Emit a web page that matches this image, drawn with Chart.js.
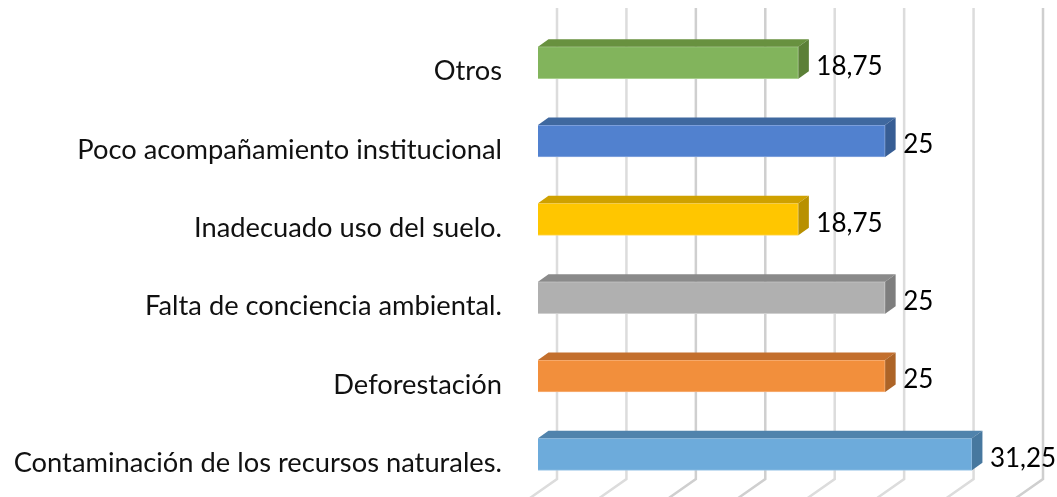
<!DOCTYPE html>
<html>
<head>
<meta charset="utf-8">
<style>
  html, body { margin: 0; padding: 0; background: #fff; }
  canvas { display: block; }
</style>
<script src="https://cdn.jsdelivr.net/npm/chart.js@4"></script>
</head>
<body>
<canvas id="chartBar" width="1057" height="497"></canvas>
<script>
const categories = [
  'Contaminación de los recursos naturales.',
  'Deforestación',
  'Falta de conciencia ambiental.',
  'Inadecuado uso del suelo.',
  'Poco acompañamiento institucional',
  'Otros'
];
const values = [31.25, 25, 25, 18.75, 25, 18.75];
const xTicks = [0, 5, 10, 15, 20, 25, 30, 35];
const frontColors = ['#6dabdb', '#f28f3c', '#b0b0b0', '#ffc600', '#5181cf', '#82b45c'];
const topColors = ['#5083ac', '#c36f2d', '#8a8a8a', '#cfa100', '#3f689f', '#68913f'];
const sideColors = ['#47789f', '#ad6427', '#7e7e7e', '#b89000', '#375d94', '#5b7f37'];
const edgeColors = ['#9cc6e8', '#f7b27a', '#cfcfcf', '#ffdb66', '#8aa9df', '#a9cf8e'];

// depth of the fake 3d bars and of the back wall
const barDepthX = 10.5;
const barDepthY = 7.5;
const wallDepthX = 19;

const wallGrid = {
  id: 'wallGrid',
  beforeDatasetsDraw(chart) {
    const ctx = chart.ctx;
    const xScale = chart.scales.x;
    ctx.save();
    xTicks.forEach(function (t, i) {
      const x = xScale.getPixelForValue(t) + wallDepthX;
      ctx.strokeStyle = i % 5 === 2 || i % 5 === 3 ? '#cfcfcf' : '#dcdcdc';
      ctx.lineWidth = 2.5;
      ctx.beginPath();
      ctx.moveTo(x, 8);
      ctx.lineTo(x, 479);
      ctx.lineTo(x - 27, 498);
      ctx.stroke();
    });
    ctx.restore();
  }
};

const bars3d = {
  id: 'bars3d',
  afterDatasetsDraw(chart) {
    const ctx = chart.ctx;
    const meta = chart.getDatasetMeta(0);
    ctx.save();
    meta.data.forEach(function (bar, i) {
      const top = bar.y - bar.height / 2;
      const bottom = bar.y + bar.height / 2;
      // top face
      ctx.fillStyle = topColors[i];
      ctx.beginPath();
      ctx.moveTo(bar.base, top);
      ctx.lineTo(bar.base + barDepthX, top - barDepthY);
      ctx.lineTo(bar.x + barDepthX, top - barDepthY);
      ctx.lineTo(bar.x, top);
      ctx.closePath();
      ctx.fill();
      // side face
      ctx.fillStyle = sideColors[i];
      ctx.beginPath();
      ctx.moveTo(bar.x, top);
      ctx.lineTo(bar.x + barDepthX, top - barDepthY);
      ctx.lineTo(bar.x + barDepthX, bottom - barDepthY);
      ctx.lineTo(bar.x, bottom);
      ctx.closePath();
      ctx.fill();
      // value label
      ctx.fillStyle = '#000';
      ctx.font = '26px Lato';
      ctx.textAlign = 'left';
      ctx.textBaseline = 'middle';
      ctx.fillText(String(values[i]).replace('.', ','), bar.x + 18, bar.y + 4);
    });
    ctx.restore();
  }
};

new Chart(document.getElementById('chartBar'), {
  type: 'bar',
  data: {
    labels: categories,
    datasets: [{
      label: '',
      data: values,
      backgroundColor: frontColors,
      borderColor: edgeColors,
      borderWidth: 1,
      barThickness: 32
    }]
  },
  options: {
    indexAxis: 'y',
    responsive: false,
    animation: false,
    layout: { padding: { left: 0, right: 33, top: 23.5, bottom: 3.5 } },
    plugins: {
      legend: { display: false },
      tooltip: { enabled: false }
    },
    scales: {
      x: { display: false, min: 0, max: 35 },
      y: {
        reverse: true,
        grid: { display: false },
        border: { display: false },
        afterFit(scale) {
          scale.width = 538;
          scale.paddingTop = 0;
          scale.paddingBottom = 0;
        },
        ticks: {
          color: '#111',
          padding: 28,
          labelOffset: 9,
          autoSkip: false,
          font: { family: 'Lato', size: 27.3 }
        }
      }
    }
  },
  plugins: [wallGrid, bars3d]
});
</script>
</body>
</html>
